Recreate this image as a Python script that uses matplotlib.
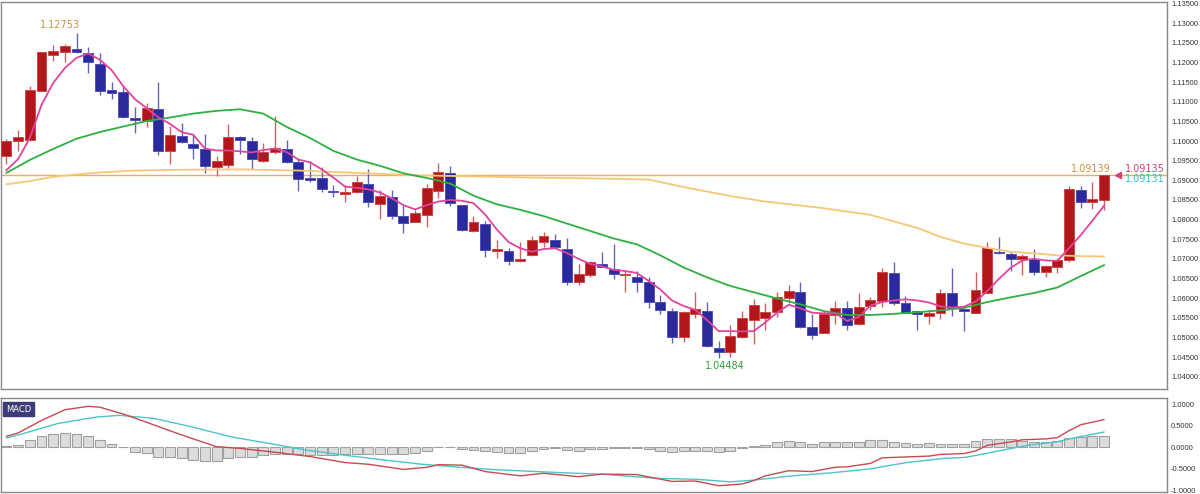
import numpy as np
import matplotlib.pyplot as plt
from matplotlib import font_manager
from matplotlib.ticker import FormatStrFormatter
plt.rc("font", family='DejaVu Sans', size=7)

# daily candles (open, high, low, close)
opens = [1.0962, 1.0999, 1.1003, 1.1128, 1.1218, 1.1226, 1.1235, 1.1224, 1.1196, 1.1130,
         1.1126, 1.1060, 1.1051, 1.1081, 1.0976, 1.1014, 1.0992, 1.0979, 1.0933, 1.0939,
         1.1010, 1.0999, 1.0949, 1.0971, 1.0981, 1.0946, 1.0907, 1.0905, 1.0874, 1.0865,
         1.0870, 1.0891, 1.0840, 1.0858, 1.0808, 1.0794, 1.0812, 1.0873, 1.0918, 1.0836,
         1.0771, 1.0788, 1.0721, 1.0721, 1.0695, 1.0710, 1.0742, 1.0748, 1.0725, 1.0640,
         1.0659, 1.0686, 1.0674, 1.0659, 1.0655, 1.0642, 1.0589, 1.0567, 1.0501, 1.0560,
         1.0566, 1.0474, 1.0464, 1.0502, 1.0544, 1.0550, 1.0564, 1.0601, 1.0616, 1.0526,
         1.0512, 1.0557, 1.0574, 1.0533, 1.0581, 1.0593, 1.0663, 1.0588, 1.0566, 1.0555,
         1.0561, 1.0614, 1.0572, 1.0563, 1.0614, 1.0718, 1.0713, 1.0699, 1.0700, 1.0666,
         1.0679, 1.0697, 1.0876, 1.0846, 1.0850]
highs = [1.1005, 1.1027, 1.1140, 1.1226, 1.1244, 1.1247, 1.12753, 1.1239, 1.1224, 1.1151,
         1.1140, 1.1086, 1.1096, 1.1151, 1.1039, 1.1045, 1.1016, 1.1018, 1.0962, 1.1043,
         1.1012, 1.1010, 1.0996, 1.1065, 1.1003, 1.0956, 1.0948, 1.0935, 1.0888, 1.0888,
         1.0911, 1.0929, 1.0876, 1.0876, 1.0837, 1.0825, 1.0891, 1.0943, 1.0937, 1.0837,
         1.0808, 1.0797, 1.0748, 1.0727, 1.0742, 1.0758, 1.0769, 1.0763, 1.0752, 1.0686,
         1.0695, 1.0717, 1.0737, 1.0669, 1.0670, 1.0655, 1.0608, 1.0574, 1.0566, 1.0616,
         1.0591, 1.0492, 1.0532, 1.0566, 1.0597, 1.0587, 1.0616, 1.0634, 1.0640, 1.0559,
         1.0570, 1.0593, 1.0593, 1.0614, 1.0604, 1.0678, 1.0693, 1.0606, 1.0568, 1.0570,
         1.0623, 1.0676, 1.0574, 1.0667, 1.0744, 1.0755, 1.0718, 1.0712, 1.0724, 1.0684,
         1.0703, 1.0886, 1.0886, 1.0895, 1.0914]
lows = [1.0942, 1.0976, 1.1000, 1.1128, 1.1205, 1.1202, 1.1224, 1.1174, 1.1117, 1.1107,
        1.1058, 1.1020, 1.1037, 1.0965, 1.0942, 1.0994, 1.0954, 1.0918, 1.0911, 1.0931,
        1.0966, 1.0929, 1.0947, 1.0967, 1.0943, 1.0874, 1.0897, 1.0871, 1.0857, 1.0846,
        1.0869, 1.0831, 1.0801, 1.0802, 1.0765, 1.0793, 1.0782, 1.0854, 1.0835, 1.0771,
        1.0769, 1.0706, 1.0702, 1.0684, 1.0693, 1.0707, 1.0729, 1.0727, 1.0633, 1.0633,
        1.0653, 1.0680, 1.0649, 1.0616, 1.0615, 1.0574, 1.0560, 1.0486, 1.0489, 1.0549,
        1.0476, 1.04484, 1.0450, 1.0498, 1.0482, 1.0519, 1.0553, 1.0587, 1.0523, 1.0495,
        1.0510, 1.0533, 1.0519, 1.0532, 1.0570, 1.0578, 1.0583, 1.0561, 1.0519, 1.0533,
        1.0546, 1.0555, 1.0515, 1.0561, 1.0612, 1.0713, 1.0669, 1.0659, 1.0659, 1.0655,
        1.0663, 1.0693, 1.0830, 1.0827, 1.0825]
closes = [1.1000, 1.1010, 1.1130, 1.1226, 1.1230, 1.1241, 1.1227, 1.1201, 1.1128, 1.1123,
          1.1062, 1.1053, 1.1085, 1.0976, 1.1016, 1.0997, 1.0983, 1.0937, 1.0948, 1.1010,
          1.1002, 1.0955, 1.0973, 1.0982, 1.0947, 1.0904, 1.0901, 1.0877, 1.0870, 1.0871,
          1.0896, 1.0846, 1.0861, 1.0810, 1.0792, 1.0818, 1.0880, 1.0922, 1.0842, 1.0774,
          1.0795, 1.0723, 1.0725, 1.0695, 1.0699, 1.0747, 1.0758, 1.0729, 1.0642, 1.0662,
          1.0691, 1.0680, 1.0661, 1.0662, 1.0642, 1.0591, 1.0570, 1.0502, 1.0565, 1.0572,
          1.0478, 1.0464, 1.0504, 1.0549, 1.0583, 1.0564, 1.0604, 1.0618, 1.0526, 1.0506,
          1.0559, 1.0576, 1.0532, 1.0578, 1.0595, 1.0667, 1.0588, 1.0563, 1.0560, 1.0563,
          1.0614, 1.0576, 1.0567, 1.0621, 1.0727, 1.0714, 1.0699, 1.0708, 1.0666, 1.0682,
          1.0697, 1.0878, 1.0846, 1.0852, 1.09135]

# fast MA (magenta), one value per candle
ma_fast = [1.0926, 1.0954, 1.1008, 1.1092, 1.1148, 1.1186, 1.1212, 1.1223, 1.1207, 1.1181,
           1.1140, 1.1107, 1.1084, 1.1061, 1.1044, 1.1023, 1.1016, 1.0981, 1.0976, 1.0976,
           1.0974, 1.0971, 1.0977, 1.0981, 1.0972, 1.0953, 1.0946, 1.0928, 1.0907, 1.0884,
           1.0881, 1.0877, 1.0869, 1.0854, 1.0837, 1.0826, 1.0837, 1.0846, 1.0850, 1.0848,
           1.0842, 1.0813, 1.0775, 1.0743, 1.0727, 1.0718, 1.0725, 1.0727, 1.0715, 1.0700,
           1.0687, 1.0681, 1.0672, 1.0669, 1.0664, 1.0644, 1.0622, 1.0594, 1.0580, 1.0570,
           1.0544, 1.0516, 1.0516, 1.0515, 1.0516, 1.0538, 1.0563, 1.0583, 1.0574, 1.0563,
           1.0561, 1.0561, 1.0542, 1.0552, 1.0581, 1.0590, 1.0594, 1.0597, 1.0594, 1.0589,
           1.0579, 1.0576, 1.0578, 1.0591, 1.0618, 1.0649, 1.0677, 1.0696, 1.0700, 1.0696,
           1.0695, 1.0727, 1.0760, 1.0797, 1.0835]

# mid MA (green), read every second candle
ma_mid_idx = list(range(0, 95, 2))
ma_mid = [1.0919, 1.0952, 1.0980, 1.1006, 1.1023, 1.1037, 1.1051, 1.1060, 1.1070, 1.1077,
          1.1081, 1.1070, 1.1036, 1.1008, 1.0975, 1.0953, 1.0937, 1.0918, 1.0906, 1.0892,
          1.0861, 1.0839, 1.0825, 1.0809, 1.0790, 1.0771, 1.0752, 1.0737, 1.0709, 1.0678,
          1.0653, 1.0631, 1.0615, 1.0599, 1.0584, 1.0567, 1.0557, 1.0557, 1.0560, 1.0564,
          1.0569, 1.0575, 1.0590, 1.0602, 1.0613, 1.0627, 1.0656, 1.0684]

# slow MA (orange)
ma_slow_idx = [0, 2, 4, 6, 8, 11, 15, 20, 25, 30, 35, 40, 45, 50, 55, 58, 62, 65, 70, 74,
               78, 80, 82, 84, 86, 88, 90, 92, 94]
ma_slow = [1.0890, 1.0898, 1.0909, 1.0915, 1.0920, 1.0925, 1.0927, 1.0928, 1.0925, 1.0919,
           1.0913, 1.0910, 1.0907, 1.0905, 1.0902, 1.0883, 1.0860, 1.0846, 1.0829, 1.0812,
           1.0779, 1.0756, 1.0739, 1.0728, 1.0718, 1.0714, 1.0709, 1.0707, 1.0706]

level = 1.09139

# MACD panel
macd_hist = [0.02, 0.05, 0.16, 0.26, 0.30, 0.32, 0.30, 0.26, 0.16, 0.07,
             0.005, -0.11, -0.13, -0.22, -0.24, -0.26, -0.29, -0.32, -0.32, -0.26,
             -0.22, -0.22, -0.19, -0.16, -0.16, -0.17, -0.19, -0.19, -0.19, -0.16,
             -0.15, -0.15, -0.15, -0.15, -0.17, -0.13, -0.08, 0.005, 0.005, -0.05,
             -0.06, -0.10, -0.12, -0.13, -0.13, -0.08, -0.05, -0.03, -0.06, -0.08,
             -0.05, -0.04, -0.03, -0.02, -0.02, -0.05, -0.08, -0.11, -0.10, -0.08,
             -0.10, -0.11, -0.10, -0.02, 0.02, 0.05, 0.11, 0.15, 0.11, 0.07,
             0.11, 0.11, 0.11, 0.11, 0.16, 0.16, 0.13, 0.09, 0.07, 0.09,
             0.07, 0.07, 0.07, 0.15, 0.19, 0.19, 0.19, 0.15, 0.12, 0.12,
             0.15, 0.21, 0.23, 0.25, 0.26]
macd_idx = [0, 1, 3, 5, 7, 8, 10, 12, 14, 16, 18, 20, 23, 26, 29, 31, 34, 36, 37, 39,
            41, 44, 46, 49, 51, 54, 57, 59, 61, 63, 64, 65, 67, 69, 71, 72, 74, 75, 77, 79,
            80, 82, 83, 84, 86, 87, 89, 90, 91, 92, 93, 94]
macd_line = [0.25, 0.33, 0.62, 0.87, 0.95, 0.93, 0.77, 0.58, 0.38, 0.19, 0.01, -0.03, -0.12,
             -0.22, -0.36, -0.40, -0.52, -0.47, -0.41, -0.42, -0.57, -0.67, -0.61, -0.69,
             -0.63, -0.64, -0.80, -0.79, -0.90, -0.86, -0.78, -0.67, -0.55, -0.57, -0.47,
             -0.46, -0.38, -0.25, -0.23, -0.21, -0.17, -0.15, -0.09, 0.04, 0.12, 0.17, 0.19,
             0.22, 0.38, 0.52, 0.58, 0.64]
signal_idx = [0, 1.5, 4.4, 7.7, 9.7, 12.6, 15.9, 19.2, 22.4, 25.7, 29, 32.3, 35.6, 38.8,
              42.1, 45.4, 48.7, 50.9, 55.8, 59.1, 62, 64, 67.3, 70.6, 73.9, 77.1, 80.4,
              82.1, 83.7, 85.7, 87.7, 89.9, 91.9, 94]
signal_line = [0.21, 0.32, 0.55, 0.70, 0.74, 0.67, 0.47, 0.24, 0.09, -0.07, -0.19, -0.30,
               -0.40, -0.47, -0.53, -0.57, -0.61, -0.63, -0.73, -0.75, -0.81, -0.77, -0.67,
               -0.60, -0.51, -0.36, -0.26, -0.24, -0.16, -0.05, 0.05, 0.12, 0.24, 0.35]

# narrow font for the price scale if it is there
installed = {f.name for f in font_manager.fontManager.ttflist}
if 'Liberation Sans Narrow' in installed:
    scale_font, scale_size = 'Liberation Sans Narrow', 6.5
else:
    scale_font, scale_size = 'Liberation Sans', 5.4

x = np.arange(len(closes))
o = np.array(opens); c = np.array(closes)
up = c >= o

fig = plt.figure(figsize=(12, 4.94), dpi=100, facecolor='white')
ax = fig.add_axes([0.001, 0.2126, 0.9715, 0.7834])
ax2 = fig.add_axes([0.001, 0.004, 0.9715, 0.19])

# wicks then bodies
wick_col = np.where(up, '#c86464', '#6464b4')
ax.vlines(x, lows, highs, colors=wick_col, linewidth=1.0, zorder=2)
body_lo = np.minimum(o, c)
body_h = np.maximum(np.abs(c - o), 0.00012)
ax.bar(x, body_h, bottom=body_lo, width=0.85,
       color=np.where(up, '#b0161a', '#2a2a9c'),
       edgecolor=np.where(up, '#d04848', '#5050b8'), linewidth=0.7, zorder=3)

ax.axhline(level, color='#f0b040', linewidth=1.0, zorder=1)
ax.plot(ma_slow_idx, ma_slow, color='#f5c878', linewidth=1.3, zorder=4)
ax.plot(ma_mid_idx, ma_mid, color='#2fb040', linewidth=1.3, zorder=4)
ax.plot(x, ma_fast, color='#e0449c', linewidth=1.3, zorder=5)

ax.text(4.6, 1.12753 + 0.0007, '1.12753', color='#d09040', fontsize=7, ha='center', va='bottom')
ax.text(61.5, 1.04484 - 0.0008, '1.04484', color='#30a040', fontsize=7, ha='center', va='top')
ax.text(94.6, level + 0.0001, '1.09139', color='#d09040', fontsize=7, ha='right', va='bottom')
ax.plot([95.2], [level], marker='<', color='#d0407a', markersize=5, clip_on=False)
ax.text(95.8, level + 0.0002, '1.09135', color='#d0407a', fontsize=7, ha='left', va='bottom')
ax.text(95.8, level + 0.0002, '1.09131', color='#40b8c8', fontsize=7, ha='left', va='top')

ax.set_xlim(-0.45, 99.4)
ax.set_ylim(1.03686, 1.13543)
ax.set_yticks(np.arange(1.040, 1.1351, 0.005))
ax.yaxis.set_major_formatter(FormatStrFormatter('%.5f'))
ax.yaxis.tick_right()
ax.set_xticks([])

# MACD
ax2.bar(x, macd_hist, width=0.85, color='#dcdcdc', edgecolor='#a0a0a0', linewidth=0.8, zorder=2)
ax2.plot(signal_idx, signal_line, color='#4cc4cc', linewidth=1.0, zorder=3)
ax2.plot(macd_idx, macd_line, color='#c84a50', linewidth=1.0, zorder=4)
ax2.text(0.004, 0.93, 'MACD', transform=ax2.transAxes, color='white', fontsize=6,
         ha='left', va='top',
         bbox=dict(boxstyle='square,pad=0.3', facecolor='#3c3c78', edgecolor='#3c3c78'))
ax2.set_xlim(-0.45, 99.4)
ax2.set_ylim(-1.047, 1.14)
ax2.set_yticks([1.0, 0.5, 0.0, -0.5, -1.0])
ax2.yaxis.set_major_formatter(FormatStrFormatter('%.4f'))
ax2.yaxis.tick_right()
ax2.set_xticks([])

for a in (ax, ax2):
    a.tick_params(axis='y', length=0, pad=3, labelsize=scale_size, labelcolor='#333333')
    for lab in a.get_yticklabels():
        lab.set_family(scale_font)
    for s in a.spines.values():
        s.set_color('#888888')
        s.set_linewidth(1.0)

fig.savefig('out.png', dpi=100)
